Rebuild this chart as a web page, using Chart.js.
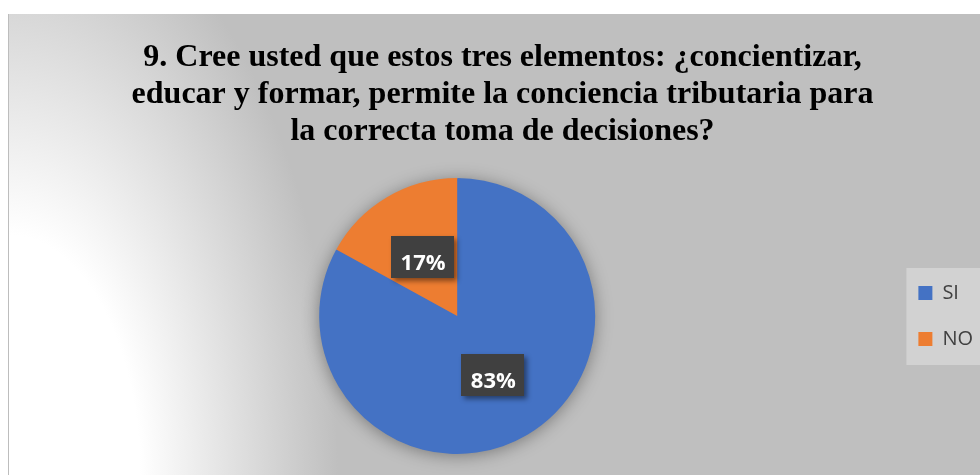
<!DOCTYPE html>
<html>
<head>
<meta charset="utf-8">
<script src="https://cdn.jsdelivr.net/npm/chart.js@4.4.0/dist/chart.umd.min.js"></script>
<style>
  html, body { margin: 0; padding: 0; background: #ffffff; }
  #wrap { width: 980px; height: 475px; position: relative; }
</style>
</head>
<body>
<div id="wrap"><canvas id="c" width="980" height="475"></canvas></div>
<script>
const categories = ['SI', 'NO'];
const values = [83, 17];
const percentLabels = ['83%', '17%'];
const colors = ['#4472C4', '#ED7D31'];
const titleLines = [
  '9. Cree usted que estos tres elementos: ¿concientizar,',
  'educar y formar, permite la conciencia tributaria para',
  'la correcta toma de decisiones?'
];

const backgroundPlugin = {
  id: 'bg',
  beforeDraw(chart) {
    const ctx = chart.ctx;
    const W = chart.width, H = chart.height;
    ctx.save();
    ctx.fillStyle = '#ffffff';
    ctx.fillRect(0, 0, W, H);
    ctx.fillStyle = '#bfbfbf';
    ctx.fillRect(8, 14, W - 8, H - 14);
    ctx.save();
    ctx.beginPath();
    ctx.rect(8, 14, W - 8, H - 14);
    ctx.clip();
    const cx = 8, cy = H, rx = 330, ry = 600;
    ctx.translate(cx, cy);
    ctx.scale(1, ry / rx);
    const g = ctx.createRadialGradient(0, 0, 0, 0, 0, rx);
    g.addColorStop(0, '#ffffff');
    g.addColorStop(0.4, '#ffffff');
    g.addColorStop(1, '#bfbfbf');
    ctx.fillStyle = g;
    ctx.fillRect(-10, -rx - 10, rx + 20, rx + 20);
    ctx.restore();
    ctx.strokeStyle = '#bdbdbd';
    ctx.lineWidth = 1;
    ctx.beginPath();
    ctx.moveTo(8.5, 14);
    ctx.lineTo(8.5, H);
    ctx.stroke();
    const lg = chart.legend;
    if (lg && lg.legendHitBoxes && lg.legendHitBoxes.length) {
      const hb = lg.legendHitBoxes;
      const first = hb[0], last = hb[hb.length - 1];
      ctx.fillStyle = '#d2d2d2';
      const top = first.top - 15;
      const bottom = last.top + last.height + 16;
      ctx.fillRect(first.left - 12, top, W - (first.left - 12), bottom - top);
    }
    ctx.restore();
  }
};

const pieShadowPlugin = {
  id: 'pieShadow',
  beforeDatasetsDraw(chart) {
    const meta = chart.getDatasetMeta(0);
    if (!meta.data.length) return;
    const arc = meta.data[0];
    const ctx = chart.ctx;
    ctx.save();
    ctx.shadowColor = 'rgba(0,0,0,0.4)';
    ctx.shadowBlur = 18;
    ctx.shadowOffsetX = 0;
    ctx.shadowOffsetY = 2;
    ctx.fillStyle = '#4472C4';
    ctx.beginPath();
    ctx.arc(arc.x, arc.y, arc.outerRadius - 1, 0, Math.PI * 2);
    ctx.fill();
    ctx.restore();
  }
};

const labelPlugin = {
  id: 'boxLabels',
  afterDatasetsDraw(chart) {
    const meta = chart.getDatasetMeta(0);
    const ctx = chart.ctx;
    ctx.save();
    ctx.font = 'bold 22px "Open Sans", sans-serif';
    meta.data.forEach((arc, i) => {
      const p = arc.tooltipPosition();
      const txt = percentLabels[i];
      const tw = ctx.measureText(txt).width;
      const bw = Math.round(tw + 18), bh = 42;
      const bx = Math.round(p.x - bw / 2), by = Math.round(p.y - bh / 2);
      ctx.save();
      ctx.shadowColor = 'rgba(0,0,0,0.45)';
      ctx.shadowBlur = 5;
      ctx.shadowOffsetX = 3;
      ctx.shadowOffsetY = 3;
      ctx.fillStyle = '#404040';
      ctx.fillRect(bx, by, bw, bh);
      ctx.restore();
      ctx.fillStyle = '#ffffff';
      ctx.textAlign = 'center';
      ctx.textBaseline = 'alphabetic';
      ctx.fillText(txt, p.x + 1, p.y + 13);
    });
    ctx.restore();
  }
};

const layoutFixPlugin = {
  id: 'layoutFix',
  afterLayout(chart) {
    const lg = chart.legend;
    const ca = chart.chartArea;
    if (lg) {
      lg.top = ca.top;
      lg.bottom = ca.bottom;
      lg.left += 10;
      lg.right += 10;
    }
  }
};

new Chart(document.getElementById('c'), {
  type: 'pie',
  data: {
    labels: categories,
    datasets: [{
      data: values,
      backgroundColor: colors,
      borderWidth: 0,
      hoverOffset: 0
    }]
  },
  options: {
    responsive: false,
    animation: false,
    events: [],
    layout: { padding: { top: 14, bottom: 21, left: 32, right: 7 } },
    plugins: {
      tooltip: { enabled: false },
      title: {
        display: true,
        text: titleLines,
        color: '#000000',
        font: { family: '"Liberation Serif", "Times New Roman", serif', weight: 'bold', size: 32, lineHeight: 37 / 32 },
        padding: { top: 25, bottom: 28 }
      },
      legend: {
        display: true,
        position: 'right',
        align: 'center',
        labels: {
          boxWidth: 14,
          boxHeight: 14,
          padding: 26,
          color: '#404040',
          font: { family: '"Open Sans", sans-serif', size: 20 }
        }
      }
    }
  },
  plugins: [backgroundPlugin, pieShadowPlugin, labelPlugin, layoutFixPlugin]
});
</script>
</body>
</html>
